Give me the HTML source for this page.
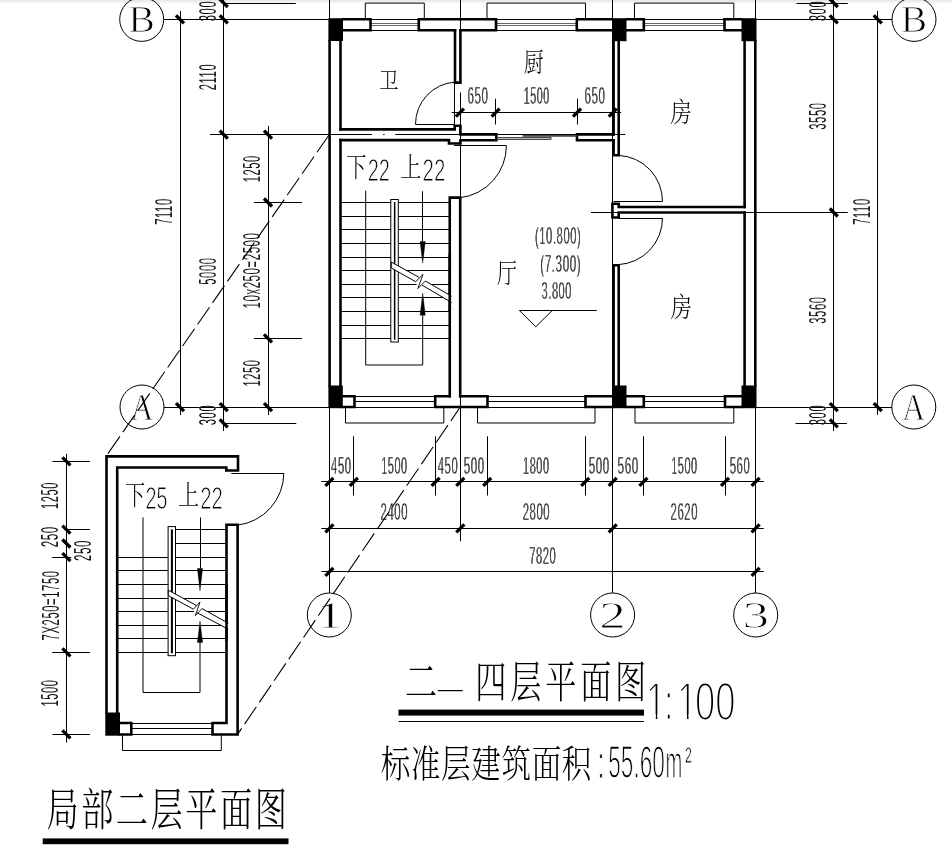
<!DOCTYPE html>
<html lang="zh">
<head>
<meta charset="utf-8">
<title>二—四层平面图 1:100</title>
<style>
html,body{margin:0;padding:0;background:#fff;}
body{width:952px;height:848px;overflow:hidden;position:relative;}
svg{display:block;position:absolute;left:0;top:0;filter:grayscale(1);}
.shade{position:absolute;left:0;top:0;width:952px;height:4px;background:linear-gradient(#e4e4e4,rgba(255,255,255,0));}
.n{stroke:#000;stroke-width:1.0;fill:none;}
.z{stroke:#000;stroke-width:0.9;fill:none;stroke-linejoin:miter;stroke-miterlimit:10;}
.h{stroke:#000;stroke-width:0.8;fill:none;}
.g{stroke:#555;stroke-width:0.9;fill:none;}
.k{stroke:#000;stroke-width:2.6;fill:none;stroke-linejoin:miter;stroke-linecap:square;}
.t{stroke:#000;stroke-width:3.3;stroke-linecap:butt;}
.col{fill:#000;stroke:none;}
.bar{fill:#4a4a4a;stroke:none;}
.ul{fill:#000;stroke:none;}
.arr{fill:#000;stroke:#000;stroke-width:0.4;}
.wf{fill:#fff;stroke:none;}
.dash{stroke:#000;stroke-width:1.1;stroke-dasharray:21 5.2;fill:none;}
text{fill:#000;}
.d{font-family:"Liberation Sans",sans-serif;stroke:#fff;stroke-width:0.5;letter-spacing:0.05em;filter:url(#bx);}
.dv{filter:none;stroke-width:0.15;}
.d4{font-family:"Liberation Sans",sans-serif;stroke:#fff;stroke-width:1.6;}
.d3{font-family:"Liberation Sans",sans-serif;stroke:#fff;stroke-width:0.9;}
.b{font-family:"Liberation Serif",serif;stroke:#fff;stroke-width:0.9;}
.c,.c2{font-family:"Liberation Sans","Noto Serif CJK SC",serif;font-weight:300;}
</style>
</head>
<body>
<div class="shade"></div>
<svg width="952" height="848" viewBox="0 0 952 848">
<defs><filter id="bx" x="-10%" y="-10%" width="120%" height="120%"><feGaussianBlur stdDeviation="0.4 0"/><feComponentTransfer><feFuncA type="linear" slope="2.7"/></feComponentTransfer></filter></defs>
<line class="n" x1="329.5" y1="0" x2="329.5" y2="593"/>
<line class="n" x1="460.5" y1="0" x2="460.5" y2="83"/>
<line class="n" x1="460.5" y1="92.5" x2="460.5" y2="541.3"/>
<line class="n" x1="612.5" y1="0" x2="612.5" y2="593"/>
<line class="n" x1="755.5" y1="0" x2="755.5" y2="593"/>
<line class="n" x1="164" y1="19.5" x2="329.5" y2="19.5"/>
<line class="n" x1="755.8" y1="19.5" x2="892" y2="19.5"/>
<line class="n" x1="164" y1="407.5" x2="329.5" y2="407.5"/>
<line class="n" x1="755.8" y1="407.5" x2="892" y2="407.5"/>
<line class="n" x1="210" y1="134.5" x2="372" y2="134.5"/>
<line class="n" x1="383.2" y1="134.5" x2="384.6" y2="134.5"/>
<line class="n" x1="395.3" y1="134.5" x2="460" y2="134.5"/>
<line class="n" x1="612.8" y1="134.5" x2="625.4" y2="134.5"/>
<line class="n" x1="591" y1="212.5" x2="847.8" y2="212.5"/>
<polyline class="n" points="365.3,19.3 365.3,3.1 424.3,3.1 424.3,19.3"/>
<polyline class="n" points="487,19.3 487,3.1 585.5,3.1 585.5,19.3"/>
<polyline class="n" points="634.5,19.3 634.5,3.1 733.8,3.1 733.8,19.3"/>
<polyline class="n" points="345.5,407.1 345.5,423 443.8,423 443.8,407.1"/>
<polyline class="n" points="477.5,407.1 477.5,423 595,423 595,407.1"/>
<polyline class="n" points="635,407.1 635,423 733.8,423 733.8,407.1"/>
<line class="n" x1="370.5" y1="19.5" x2="418.8" y2="19.5"/>
<line class="n" x1="370.5" y1="30.5" x2="418.8" y2="30.5"/>
<line class="g" x1="370.5" y1="23.5" x2="418.8" y2="23.5"/>
<line class="g" x1="370.5" y1="25.5" x2="418.8" y2="25.5"/>
<line class="n" x1="496" y1="19.5" x2="576.8" y2="19.5"/>
<line class="n" x1="496" y1="30.5" x2="576.8" y2="30.5"/>
<line class="g" x1="496" y1="23.5" x2="576.8" y2="23.5"/>
<line class="g" x1="496" y1="25.5" x2="576.8" y2="25.5"/>
<line class="n" x1="643.8" y1="19.5" x2="724.5" y2="19.5"/>
<line class="n" x1="643.8" y1="30.5" x2="724.5" y2="30.5"/>
<line class="g" x1="643.8" y1="23.5" x2="724.5" y2="23.5"/>
<line class="g" x1="643.8" y1="25.5" x2="724.5" y2="25.5"/>
<line class="n" x1="354.5" y1="396.5" x2="435.2" y2="396.5"/>
<line class="n" x1="354.5" y1="407.5" x2="435.2" y2="407.5"/>
<line class="n" x1="354.5" y1="401.5" x2="435.2" y2="401.5"/>
<line class="n" x1="487.5" y1="396.5" x2="585.5" y2="396.5"/>
<line class="n" x1="487.5" y1="407.5" x2="585.5" y2="407.5"/>
<line class="n" x1="487.5" y1="401.5" x2="585.5" y2="401.5"/>
<line class="n" x1="643.8" y1="396.5" x2="725" y2="396.5"/>
<line class="n" x1="643.8" y1="407.5" x2="725" y2="407.5"/>
<line class="n" x1="643.8" y1="401.5" x2="725" y2="401.5"/>
<polyline class="k" points="343,19.3 370.5,19.3 370.5,30.3 343,30.3"/>
<polyline class="k" points="455,30.3 418.8,30.3 418.8,19.3 496,19.3 496,30.3 460.4,30.3"/>
<polyline class="k" points="612.5,19.3 576.8,19.3 576.8,30.3 612.5,30.3"/>
<polyline class="k" points="626.5,19.3 643.8,19.3 643.8,30.3 626.5,30.3"/>
<polyline class="k" points="741.5,19.3 724.5,19.3 724.5,30.3 741.5,30.3"/>
<polyline class="k" points="342.8,407.0 354.5,407.0 354.5,396.2 342.8,396.2"/>
<polyline class="k" points="449.75,396.2 435.2,396.2 435.2,407.0 487.5,407.0 487.5,396.2 460.2,396.2"/>
<polyline class="k" points="612.5,407.0 585.5,407.0 585.5,396.2 612.5,396.2"/>
<polyline class="k" points="626.5,407.0 643.8,407.0 643.8,396.2 626.5,396.2"/>
<polyline class="k" points="741.5,407.0 725,407.0 725,396.2 741.5,396.2"/>
<line class="k" x1="329.6" y1="41" x2="329.6" y2="385.5"/>
<line class="k" x1="340.5" y1="41" x2="340.5" y2="129.4"/>
<line class="k" x1="340.5" y1="140.1" x2="340.5" y2="385.5"/>
<line class="k" x1="755.3" y1="41" x2="755.3" y2="385.5"/>
<line class="k" x1="744.6" y1="41" x2="744.6" y2="207"/>
<line class="k" x1="744.6" y1="212.5" x2="744.6" y2="385.5"/>
<polyline class="k" points="340.5,129.4 454.7,129.4 454.7,125.8 460.4,125.8 460.4,134.4 496.3,134.4 496.3,140.3 460.4,140.3 460.4,143.5 449,143.5 449,140.1 340.5,140.1"/>
<polyline class="k" points="455,30.3 455,82.6 460.4,82.6 460.4,30.3"/>
<line class="n" x1="454.5" y1="82.6" x2="454.5" y2="125.8"/>
<polyline class="k" points="613.6,134.4 577,134.4 577,140.3 613.6,140.3"/>
<polyline class="k" points="613.6,41 613.6,134.4"/>
<polyline class="k" points="613.6,140.3 613.6,155.3 618.7,155.3 618.7,41"/>
<polyline class="k" points="744.6,207 618.7,207 618.7,203.8 612.4,203.8 612.4,217.5 618.7,217.5 618.7,212.5 744.6,212.5"/>
<polyline class="k" points="613.6,385.5 613.6,265.2 618.7,265.2 618.7,385.5"/>
<polyline class="k" points="449.75,396.2 449.75,197.6 460.2,197.6 460.2,396.2"/>
<rect class="col" x="328.4" y="18.2" width="14.60" height="22.80"/>
<rect class="col" x="612.5" y="18.2" width="14.00" height="23.00"/>
<rect class="col" x="741.5" y="18.2" width="15.00" height="23.00"/>
<rect class="col" x="328.4" y="385.5" width="14.40" height="22.70"/>
<rect class="col" x="612.5" y="385.5" width="14.00" height="22.70"/>
<rect class="col" x="741.5" y="385.5" width="15.00" height="22.70"/>
<line class="n" x1="415.5" y1="124.5" x2="454.5" y2="124.5"/>
<path class="n" d="M415.5,124.2 A42.2,42.2 0 0 1 455,82.1"/>
<line class="n" x1="454" y1="145.5" x2="506.4" y2="145.5"/>
<path class="n" d="M506.4,145.7 A52.4,52.4 0 0 1 460.2,197.7"/>
<line class="n" x1="613.5" y1="201.5" x2="662.5" y2="201.5"/>
<path class="n" d="M662.5,201.3 A46,46 0 0 0 618.7,155.4"/>
<line class="n" x1="618.7" y1="218.5" x2="662.5" y2="218.5"/>
<path class="n" d="M662.5,218 A46.6,46.6 0 0 1 618.7,264.6"/>
<line class="n" x1="496.3" y1="134.5" x2="577" y2="134.5"/>
<rect class="bar" x="522.6" y="134.9" width="54.40" height="1.90"/>
<rect x="497" y="137.5" width="54" height="2" fill="#bbb" stroke="#222" stroke-width="0.8"/>
<line class="n" x1="340.5" y1="202.5" x2="391" y2="202.5"/>
<line class="n" x1="398.4" y1="202.5" x2="449.75" y2="202.5"/>
<line class="n" x1="340.5" y1="216.5" x2="391" y2="216.5"/>
<line class="n" x1="398.4" y1="216.5" x2="449.75" y2="216.5"/>
<line class="n" x1="340.5" y1="229.5" x2="391" y2="229.5"/>
<line class="n" x1="398.4" y1="229.5" x2="449.75" y2="229.5"/>
<line class="n" x1="340.5" y1="243.5" x2="391" y2="243.5"/>
<line class="n" x1="398.4" y1="243.5" x2="449.75" y2="243.5"/>
<line class="n" x1="340.5" y1="257.5" x2="391" y2="257.5"/>
<line class="n" x1="398.4" y1="257.5" x2="449.75" y2="257.5"/>
<line class="n" x1="340.5" y1="270.5" x2="391" y2="270.5"/>
<line class="n" x1="398.4" y1="270.5" x2="449.75" y2="270.5"/>
<line class="n" x1="340.5" y1="284.5" x2="391" y2="284.5"/>
<line class="n" x1="398.4" y1="284.5" x2="449.75" y2="284.5"/>
<line class="n" x1="340.5" y1="297.5" x2="391" y2="297.5"/>
<line class="n" x1="398.4" y1="297.5" x2="449.75" y2="297.5"/>
<line class="n" x1="340.5" y1="311.5" x2="391" y2="311.5"/>
<line class="n" x1="398.4" y1="311.5" x2="449.75" y2="311.5"/>
<line class="n" x1="340.5" y1="325.5" x2="391" y2="325.5"/>
<line class="n" x1="398.4" y1="325.5" x2="449.75" y2="325.5"/>
<line class="n" x1="340.5" y1="338.5" x2="391" y2="338.5"/>
<line class="n" x1="398.4" y1="338.5" x2="449.75" y2="338.5"/>
<rect class="n" x="390.8" y="199.5" width="7.50" height="142.50"/>
<rect class="col" x="393.9" y="202.1" width="1.50" height="137.60"/>
<polyline class="n" points="365.7,190.7 365.7,365 422.7,365 422.7,315.2"/>
<line class="n" x1="422.5" y1="191.3" x2="422.5" y2="241.4"/>
<polygon class="arr" points="420.1,241.4 425.3,241.4 422.7,263.2"/>
<polygon class="arr" points="420.1,315.2 425.3,315.2 422.7,293"/>
<polygon class="wf" points="391.3,262.1 419.2,277.4 423,274.4 425.4,281 451.7,296.3 451.7,302.5 422.1,285.2 417.8,288.6 415.7,281.7 391.3,268"/>
<polyline class="n" points="419.2,277.4 391.3,262.1 391.3,268 415.7,281.7"/>
<polyline class="n" points="451.7,296.3 425.4,281"/>
<polyline class="n" points="422.1,285.2 451.7,302.5"/>
<polyline class="z" points="415.7,281.7 423,274.4 417.8,288.6 425.4,281"/>
<line class="k" x1="449.75" y1="255" x2="449.75" y2="310"/>
<line class="n" x1="180.5" y1="11" x2="180.5" y2="415"/>
<line class="t" x1="176.0" y1="15.3" x2="184.0" y2="23.3"/>
<line class="t" x1="176.0" y1="403.1" x2="184.0" y2="411.1"/>
<line class="n" x1="223.5" y1="0" x2="223.5" y2="431"/>
<line class="t" x1="219.75" y1="-1.0" x2="227.75" y2="7.0"/>
<line class="t" x1="219.75" y1="15.3" x2="227.75" y2="23.3"/>
<line class="t" x1="219.75" y1="130.6" x2="227.75" y2="138.6"/>
<line class="t" x1="219.75" y1="403.1" x2="227.75" y2="411.1"/>
<line class="t" x1="219.75" y1="419.4" x2="227.75" y2="427.4"/>
<line class="n" x1="223.75" y1="3.5" x2="295.8" y2="3.5"/>
<line class="n" x1="223.75" y1="423.5" x2="296.3" y2="423.5"/>
<line class="n" x1="268.5" y1="126" x2="268.5" y2="415"/>
<line class="t" x1="264.0" y1="130.6" x2="272.0" y2="138.6"/>
<line class="t" x1="264.0" y1="198.5" x2="272.0" y2="206.5"/>
<line class="t" x1="264.0" y1="334.3" x2="272.0" y2="342.3"/>
<line class="t" x1="264.0" y1="403.1" x2="272.0" y2="411.1"/>
<line class="n" x1="253.8" y1="202.5" x2="302" y2="202.5"/>
<line class="n" x1="253.8" y1="338.5" x2="302" y2="338.5"/>
<text class="d dv" transform="translate(172.3,211.5) rotate(-90)" x="0" y="0" font-size="24" text-anchor="middle" textLength="26.5" lengthAdjust="spacingAndGlyphs">7110</text>
<text class="d dv" transform="translate(215.8,77) rotate(-90)" x="0" y="0" font-size="24" text-anchor="middle" textLength="26.5" lengthAdjust="spacingAndGlyphs">2110</text>
<text class="d dv" transform="translate(215.8,271) rotate(-90)" x="0" y="0" font-size="24" text-anchor="middle" textLength="27.5" lengthAdjust="spacingAndGlyphs">5000</text>
<text class="d dv" transform="translate(215.8,11) rotate(-90)" x="0" y="0" font-size="24" text-anchor="middle" textLength="20.5" lengthAdjust="spacingAndGlyphs">300</text>
<text class="d dv" transform="translate(215.8,415) rotate(-90)" x="0" y="0" font-size="24" text-anchor="middle" textLength="20.5" lengthAdjust="spacingAndGlyphs">300</text>
<text class="d dv" transform="translate(259.8,168.7) rotate(-90)" x="0" y="0" font-size="24" text-anchor="middle" textLength="27" lengthAdjust="spacingAndGlyphs">1250</text>
<text class="d dv" transform="translate(259.8,270.5) rotate(-90)" x="0" y="0" font-size="24" text-anchor="middle" textLength="76" lengthAdjust="spacingAndGlyphs">10x250=2500</text>
<text class="d dv" transform="translate(259.8,373) rotate(-90)" x="0" y="0" font-size="24" text-anchor="middle" textLength="27" lengthAdjust="spacingAndGlyphs">1250</text>
<line class="n" x1="833.5" y1="0" x2="833.5" y2="431"/>
<line class="t" x1="829.8" y1="-1.0" x2="837.8" y2="7.0"/>
<line class="t" x1="829.8" y1="15.3" x2="837.8" y2="23.3"/>
<line class="t" x1="829.8" y1="208.5" x2="837.8" y2="216.5"/>
<line class="t" x1="829.8" y1="403.1" x2="837.8" y2="411.1"/>
<line class="t" x1="829.8" y1="419.4" x2="837.8" y2="427.4"/>
<line class="n" x1="796.5" y1="3.5" x2="847.8" y2="3.5"/>
<line class="n" x1="795.5" y1="423.5" x2="847" y2="423.5"/>
<line class="n" x1="877.5" y1="11" x2="877.5" y2="415"/>
<line class="t" x1="873.75" y1="15.3" x2="881.75" y2="23.3"/>
<line class="t" x1="873.75" y1="403.1" x2="881.75" y2="411.1"/>
<text class="d dv" transform="translate(825.8,116) rotate(-90)" x="0" y="0" font-size="24" text-anchor="middle" textLength="27.5" lengthAdjust="spacingAndGlyphs">3550</text>
<text class="d dv" transform="translate(825.8,310) rotate(-90)" x="0" y="0" font-size="24" text-anchor="middle" textLength="27.5" lengthAdjust="spacingAndGlyphs">3560</text>
<text class="d dv" transform="translate(825.8,11) rotate(-90)" x="0" y="0" font-size="24" text-anchor="middle" textLength="20.5" lengthAdjust="spacingAndGlyphs">300</text>
<text class="d dv" transform="translate(825.8,415) rotate(-90)" x="0" y="0" font-size="24" text-anchor="middle" textLength="20.5" lengthAdjust="spacingAndGlyphs">300</text>
<text class="d dv" transform="translate(870,211.5) rotate(-90)" x="0" y="0" font-size="24" text-anchor="middle" textLength="26.5" lengthAdjust="spacingAndGlyphs">7110</text>
<line class="n" x1="321.3" y1="481.5" x2="763.8" y2="481.5"/>
<line class="n" x1="321.3" y1="528.5" x2="763.8" y2="528.5"/>
<line class="n" x1="321.3" y1="571.5" x2="763.8" y2="571.5"/>
<line class="t" x1="325.4" y1="485.8" x2="333.4" y2="477.8"/>
<line class="t" x1="349.8" y1="485.8" x2="357.8" y2="477.8"/>
<line class="t" x1="431.6" y1="485.8" x2="439.6" y2="477.8"/>
<line class="t" x1="456.3" y1="485.8" x2="464.3" y2="477.8"/>
<line class="t" x1="483.2" y1="485.8" x2="491.2" y2="477.8"/>
<line class="t" x1="581.2" y1="485.8" x2="589.2" y2="477.8"/>
<line class="t" x1="608.7" y1="485.8" x2="616.7" y2="477.8"/>
<line class="t" x1="639.4" y1="485.8" x2="647.4" y2="477.8"/>
<line class="t" x1="721.0" y1="485.8" x2="729.0" y2="477.8"/>
<line class="t" x1="751.6" y1="485.8" x2="759.6" y2="477.8"/>
<line class="n" x1="353.5" y1="436.3" x2="353.5" y2="495.5"/>
<line class="n" x1="435.5" y1="436.3" x2="435.5" y2="495.5"/>
<line class="n" x1="487.5" y1="436.3" x2="487.5" y2="495.5"/>
<line class="n" x1="585.5" y1="436.3" x2="585.5" y2="495.5"/>
<line class="n" x1="643.5" y1="436.3" x2="643.5" y2="495.5"/>
<line class="n" x1="725.5" y1="436.3" x2="725.5" y2="495.5"/>
<line class="t" x1="325.4" y1="532.4" x2="333.4" y2="524.4"/>
<line class="t" x1="456.3" y1="532.4" x2="464.3" y2="524.4"/>
<line class="t" x1="608.7" y1="532.4" x2="616.7" y2="524.4"/>
<line class="t" x1="751.6" y1="532.4" x2="759.6" y2="524.4"/>
<line class="t" x1="325.4" y1="575.8" x2="333.4" y2="567.8"/>
<line class="t" x1="751.6" y1="575.8" x2="759.6" y2="567.8"/>
<text class="d" x="341.3" y="473.8" font-size="24" text-anchor="middle" textLength="20.5" lengthAdjust="spacingAndGlyphs">450</text>
<text class="d" x="394.4" y="473.8" font-size="24" text-anchor="middle" textLength="26.5" lengthAdjust="spacingAndGlyphs">1500</text>
<text class="d" x="448" y="473.8" font-size="24" text-anchor="middle" textLength="20.5" lengthAdjust="spacingAndGlyphs">450</text>
<text class="d" x="474.2" y="473.8" font-size="24" text-anchor="middle" textLength="21" lengthAdjust="spacingAndGlyphs">500</text>
<text class="d" x="536.3" y="473.8" font-size="24" text-anchor="middle" textLength="26.5" lengthAdjust="spacingAndGlyphs">1800</text>
<text class="d" x="599.2" y="473.8" font-size="24" text-anchor="middle" textLength="21" lengthAdjust="spacingAndGlyphs">500</text>
<text class="d" x="628.2" y="473.8" font-size="24" text-anchor="middle" textLength="21.3" lengthAdjust="spacingAndGlyphs">560</text>
<text class="d" x="684.4" y="473.8" font-size="24" text-anchor="middle" textLength="26.5" lengthAdjust="spacingAndGlyphs">1500</text>
<text class="d" x="740" y="473.8" font-size="24" text-anchor="middle" textLength="20.5" lengthAdjust="spacingAndGlyphs">560</text>
<text class="d" x="394.3" y="520" font-size="24" text-anchor="middle" textLength="27.5" lengthAdjust="spacingAndGlyphs">2400</text>
<text class="d" x="536.5" y="520" font-size="24" text-anchor="middle" textLength="27.5" lengthAdjust="spacingAndGlyphs">2800</text>
<text class="d" x="684.3" y="520" font-size="24" text-anchor="middle" textLength="27.5" lengthAdjust="spacingAndGlyphs">2620</text>
<text class="d" x="542.8" y="564.3" font-size="24" text-anchor="middle" textLength="27.2" lengthAdjust="spacingAndGlyphs">7820</text>
<line class="n" x1="451.6" y1="112.5" x2="621" y2="112.5"/>
<line class="t" x1="455.9" y1="116.6" x2="463.9" y2="108.6"/>
<line class="t" x1="491.6" y1="116.6" x2="499.6" y2="108.6"/>
<line class="t" x1="573.0" y1="116.6" x2="581.0" y2="108.6"/>
<line class="t" x1="608.8" y1="116.6" x2="616.8" y2="108.6"/>
<line class="n" x1="495.5" y1="98.8" x2="495.5" y2="124.5"/>
<line class="n" x1="577.5" y1="98.8" x2="577.5" y2="124.5"/>
<text class="d" x="478" y="103.8" font-size="24" text-anchor="middle" textLength="21" lengthAdjust="spacingAndGlyphs">650</text>
<text class="d" x="536.7" y="103.8" font-size="24" text-anchor="middle" textLength="26" lengthAdjust="spacingAndGlyphs">1500</text>
<text class="d" x="595" y="103.8" font-size="24" text-anchor="middle" textLength="21" lengthAdjust="spacingAndGlyphs">650</text>
<circle class="n" cx="141.7" cy="19.4" r="22"/>
<circle class="n" cx="914" cy="19.4" r="22"/>
<circle class="n" cx="142" cy="407" r="22"/>
<circle class="n" cx="913.8" cy="407" r="22"/>
<circle class="n" cx="329.3" cy="615" r="22"/>
<circle class="n" cx="612.6" cy="615" r="22"/>
<circle class="n" cx="755.7" cy="615" r="22"/>
<text class="b" transform="translate(141.7,32) scale(1.04,1)" x="0" y="0" font-size="38" text-anchor="middle">B</text>
<text class="b" transform="translate(913.9,32) scale(1.04,1)" x="0" y="0" font-size="38" text-anchor="middle">B</text>
<text class="b" transform="translate(142,419.7) scale(0.82,1)" x="0" y="0" font-size="38.5" text-anchor="middle">A</text>
<text class="b" transform="translate(913.7,419.7) scale(0.82,1)" x="0" y="0" font-size="38.5" text-anchor="middle">A</text>
<text class="b" transform="translate(329.6,628) scale(1.5,1)" x="0" y="0" font-size="38.5" text-anchor="middle">1</text>
<text class="b" transform="translate(612.5,628) scale(1.38,1)" x="0" y="0" font-size="38.5" text-anchor="middle">2</text>
<text class="b" transform="translate(755.7,628) scale(1.38,1)" x="0" y="0" font-size="38.5" text-anchor="middle">3</text>
<line class="dash" x1="329" y1="135" x2="106" y2="456.4"/>
<line class="dash" stroke-dashoffset="5.5" x1="459.6" y1="408" x2="237.9" y2="733.9"/>
<text class="c" transform="translate(388.8,80) scale(0.691,0.768)" x="0" y="10.08" font-size="28" text-anchor="middle">卫</text>
<text class="c" transform="translate(533.8,62.5) scale(0.710,0.987)" x="0" y="10.08" font-size="28" text-anchor="middle">厨</text>
<text class="c" transform="translate(681,112.5) scale(0.768,0.960)" x="0" y="10.08" font-size="28" text-anchor="middle">房</text>
<text class="c" transform="translate(681.2,307) scale(0.768,0.960)" x="0" y="10.08" font-size="28" text-anchor="middle">房</text>
<text class="c" transform="translate(507,273) scale(0.710,0.991)" x="0" y="10.08" font-size="28" text-anchor="middle">厅</text>
<text class="d" x="535" y="244" font-size="24" textLength="46.3" lengthAdjust="spacingAndGlyphs">(10.800)</text>
<text class="d" x="540.2" y="271.6" font-size="24" textLength="41.1" lengthAdjust="spacingAndGlyphs">(7.300)</text>
<text class="d" x="541.6" y="299.2" font-size="24" textLength="30.4" lengthAdjust="spacingAndGlyphs">3.800</text>
<line class="n" x1="519.4" y1="310.5" x2="596.8" y2="310.5"/>
<polyline class="n" points="519.4,310.5 535.7,326.8 552.3,310.5"/>
<text class="c" transform="translate(356.4,166.8) scale(0.722,0.987)" x="0" y="10.08" font-size="28" text-anchor="middle">下</text>
<text class="d3" x="367.7" y="180.7" font-size="32" textLength="22.1" lengthAdjust="spacingAndGlyphs">22</text>
<text class="c" transform="translate(410.8,166.8) scale(0.757,0.987)" x="0" y="10.08" font-size="28" text-anchor="middle">上</text>
<text class="d3" x="422.6" y="180.7" font-size="32" textLength="22.7" lengthAdjust="spacingAndGlyphs">22</text>
<polyline class="k" points="117.2,712.5 117.2,467.5 226.3,467.5 226.3,470.5 238,470.5 238,456.4 106.5,456.4 106.5,712.5"/>
<polyline class="k" points="120,723 131.3,723 131.3,734.5 120,734.5"/>
<polyline class="k" points="226.5,524.7 226.5,723 212.5,723 212.5,734.5 237.6,734.5 237.6,524.7 226.5,524.7"/>
<rect class="col" x="105.3" y="712.5" width="14.70" height="23.20"/>
<line class="n" x1="131.3" y1="723.5" x2="212.5" y2="723.5"/>
<line class="n" x1="131.3" y1="734.5" x2="212.5" y2="734.5"/>
<line class="n" x1="131.3" y1="728.5" x2="212.5" y2="728.5"/>
<polyline class="n" points="122.5,734.5 122.5,750.5 221.3,750.5 221.3,734.5"/>
<line class="n" x1="231.3" y1="473.5" x2="283.8" y2="473.5"/>
<path class="n" d="M283.8,473 A52.5,52.5 0 0 1 237.6,525.1"/>
<line class="n" x1="175.8" y1="529.5" x2="226.5" y2="529.5"/>
<line class="n" x1="175.8" y1="543.5" x2="226.5" y2="543.5"/>
<line class="n" x1="117.2" y1="557.5" x2="168.3" y2="557.5"/>
<line class="n" x1="175.8" y1="557.5" x2="226.5" y2="557.5"/>
<line class="n" x1="117.2" y1="570.5" x2="168.3" y2="570.5"/>
<line class="n" x1="175.8" y1="570.5" x2="226.5" y2="570.5"/>
<line class="n" x1="117.2" y1="584.5" x2="168.3" y2="584.5"/>
<line class="n" x1="175.8" y1="584.5" x2="226.5" y2="584.5"/>
<line class="n" x1="117.2" y1="598.5" x2="168.3" y2="598.5"/>
<line class="n" x1="175.8" y1="598.5" x2="226.5" y2="598.5"/>
<line class="n" x1="117.2" y1="611.5" x2="168.3" y2="611.5"/>
<line class="n" x1="175.8" y1="611.5" x2="226.5" y2="611.5"/>
<line class="n" x1="117.2" y1="625.5" x2="168.3" y2="625.5"/>
<line class="n" x1="175.8" y1="625.5" x2="226.5" y2="625.5"/>
<line class="n" x1="117.2" y1="638.5" x2="168.3" y2="638.5"/>
<line class="n" x1="175.8" y1="638.5" x2="226.5" y2="638.5"/>
<line class="n" x1="117.2" y1="652.5" x2="168.3" y2="652.5"/>
<line class="n" x1="175.8" y1="652.5" x2="226.5" y2="652.5"/>
<rect class="n" x="168.1" y="526.6" width="7.40" height="129.10"/>
<rect class="col" x="170.9" y="529.4" width="2.00" height="123.80"/>
<polyline class="n" points="143,517.5 143,692.5 200,692.5 200,642.5"/>
<line class="n" x1="200.5" y1="517.5" x2="200.5" y2="568.5"/>
<polygon class="arr" points="197.4,568.5 202.6,568.5 200,590.8"/>
<polygon class="arr" points="197.4,642.5 202.6,642.5 200,621"/>
<polygon class="wf" points="168.3,590.2 196.6,605.6 200,602 201.9,608.5 228.3,623.2 228.3,629.2 197.2,612.8 195.3,615.7 193.4,609.2 168.3,595.6"/>
<polyline class="n" points="196.6,605.6 168.3,590.2 168.3,595.6 193.4,609.2"/>
<polyline class="n" points="228.3,623.2 201.9,608.5"/>
<polyline class="n" points="197.2,612.8 228.3,629.2"/>
<polyline class="z" points="193.4,609.2 200,602 195.3,615.7 201.9,608.5"/>
<line class="k" x1="226.5" y1="585" x2="226.5" y2="640"/>
<line class="n" x1="66.5" y1="453.8" x2="66.5" y2="742.5"/>
<line class="t" x1="62.400000000000006" y1="457.3" x2="70.4" y2="465.3"/>
<line class="t" x1="62.400000000000006" y1="525.7" x2="70.4" y2="533.7"/>
<line class="t" x1="62.400000000000006" y1="539.5" x2="70.4" y2="547.5"/>
<line class="t" x1="62.400000000000006" y1="553.2" x2="70.4" y2="561.2"/>
<line class="t" x1="62.400000000000006" y1="648.4" x2="70.4" y2="656.4"/>
<line class="t" x1="62.400000000000006" y1="730.3" x2="70.4" y2="738.3"/>
<line class="n" x1="52.5" y1="461.5" x2="90" y2="461.5"/>
<line class="n" x1="66.4" y1="529.5" x2="90" y2="529.5"/>
<line class="n" x1="52.2" y1="557.5" x2="71.3" y2="557.5"/>
<line class="n" x1="52.2" y1="652.5" x2="90" y2="652.5"/>
<line class="n" x1="52.5" y1="734.5" x2="90" y2="734.5"/>
<text class="d dv" transform="translate(58.4,495.6) rotate(-90)" x="0" y="0" font-size="24" text-anchor="middle" textLength="27" lengthAdjust="spacingAndGlyphs">1250</text>
<text class="d dv" transform="translate(58,536.8) rotate(-90)" x="0" y="0" font-size="24" text-anchor="middle" textLength="21" lengthAdjust="spacingAndGlyphs">250</text>
<text class="d dv" transform="translate(91.3,550.4) rotate(-90)" x="0" y="0" font-size="24" text-anchor="middle" textLength="21" lengthAdjust="spacingAndGlyphs">250</text>
<text class="d dv" transform="translate(58.5,605.4) rotate(-90)" x="0" y="0" font-size="24" text-anchor="middle" textLength="70" lengthAdjust="spacingAndGlyphs">7X250=1750</text>
<text class="d dv" transform="translate(58.4,693) rotate(-90)" x="0" y="0" font-size="24" text-anchor="middle" textLength="27" lengthAdjust="spacingAndGlyphs">1500</text>
<text class="c" transform="translate(135,495.5) scale(0.722,0.987)" x="0" y="10.08" font-size="28" text-anchor="middle">下</text>
<text class="d3" x="145.4" y="508.8" font-size="32" textLength="22" lengthAdjust="spacingAndGlyphs">25</text>
<text class="c" transform="translate(188.5,495.5) scale(0.757,0.987)" x="0" y="10.08" font-size="28" text-anchor="middle">上</text>
<text class="d3" x="200.3" y="508.8" font-size="32" textLength="22.5" lengthAdjust="spacingAndGlyphs">22</text>
<text class="c2" transform="translate(421.15,682.5) scale(0.806,1.102)" x="0" y="14.40" font-size="40" text-anchor="middle">二</text>
<text class="d4" x="450.3" y="701.2" font-size="40" text-anchor="middle" textLength="26" lengthAdjust="spacingAndGlyphs">—</text>
<text class="c2" transform="translate(490.875,682.5) scale(0.780,1.102)" x="0" y="14.40" font-size="40" text-anchor="middle">四</text>
<text class="c2" transform="translate(525.825,682.5) scale(0.780,1.102)" x="0" y="14.40" font-size="40" text-anchor="middle">层</text>
<text class="c2" transform="translate(560.775,682.5) scale(0.780,1.102)" x="0" y="14.40" font-size="40" text-anchor="middle">平</text>
<text class="c2" transform="translate(595.725,682.5) scale(0.780,1.102)" x="0" y="14.40" font-size="40" text-anchor="middle">面</text>
<text class="c2" transform="translate(630.675,682.5) scale(0.780,1.102)" x="0" y="14.40" font-size="40" text-anchor="middle">图</text>
<rect class="ul" x="398.5" y="709.6" width="245.50" height="6.00"/>
<line class="n" x1="398.5" y1="721.5" x2="644" y2="721.5"/>
<text class="d4" x="645.8" y="719.6" font-size="54.4" textLength="20.2" lengthAdjust="spacingAndGlyphs" style="stroke-width:2.1">1</text>
<text class="d4" transform="translate(668.7,719.2) scale(1,1.4)" x="0" y="0" font-size="34" text-anchor="middle" textLength="7.5" lengthAdjust="spacingAndGlyphs" style="stroke-width:0.8">:</text>
<text class="d4" x="677" y="719.6" font-size="54.4" textLength="20.2" lengthAdjust="spacingAndGlyphs" style="stroke-width:2.1">1</text>
<text class="d4" x="695" y="719.6" font-size="54.4" textLength="40.4" lengthAdjust="spacingAndGlyphs" style="stroke-width:2.1">00</text>
<rect class="wf" x="647.3" y="714.3" width="8.50" height="6.50"/>
<rect class="wf" x="657.3499999999999" y="714.3" width="8.25" height="6.50"/>
<rect class="wf" x="678.5" y="714.3" width="8.50" height="6.50"/>
<rect class="wf" x="688.55" y="714.3" width="8.25" height="6.50"/>
<text class="c2" transform="translate(395.40000000000003,763.5) scale(0.870,1.107)" x="0" y="12.24" font-size="34" text-anchor="middle">标</text>
<text class="c2" transform="translate(425.6,763.5) scale(0.870,1.107)" x="0" y="12.24" font-size="34" text-anchor="middle">准</text>
<text class="c2" transform="translate(455.8,763.5) scale(0.870,1.107)" x="0" y="12.24" font-size="34" text-anchor="middle">层</text>
<text class="c2" transform="translate(486.0,763.5) scale(0.870,1.107)" x="0" y="12.24" font-size="34" text-anchor="middle">建</text>
<text class="c2" transform="translate(516.2,763.5) scale(0.870,1.107)" x="0" y="12.24" font-size="34" text-anchor="middle">筑</text>
<text class="c2" transform="translate(546.4,763.5) scale(0.870,1.107)" x="0" y="12.24" font-size="34" text-anchor="middle">面</text>
<text class="c2" transform="translate(576.6,763.5) scale(0.870,1.107)" x="0" y="12.24" font-size="34" text-anchor="middle">积</text>
<text class="d4" transform="translate(601.1,778.2) scale(1,1.45)" x="0" y="0" font-size="30" text-anchor="middle" textLength="6.5" lengthAdjust="spacingAndGlyphs" style="stroke-width:0.6">:</text>
<text class="d4" transform="translate(608.2,778.4) scale(1,1.516)" x="0" y="0" font-size="30" text-anchor="start" textLength="56.7" lengthAdjust="spacingAndGlyphs" style="stroke-width:0.9">55.60</text>
<text class="d4" transform="translate(665.4,778.4) scale(1,1.516)" x="0" y="0" font-size="30" text-anchor="start" textLength="16.8" lengthAdjust="spacingAndGlyphs" style="stroke-width:0.9">m</text>
<text class="d4" transform="translate(685.3,774.0) scale(1,1.62)" x="0" y="0" font-size="24" text-anchor="start" textLength="6.4" lengthAdjust="spacingAndGlyphs" style="stroke-width:0.5">²</text>
<text class="c2" transform="translate(62.550000000000004,810) scale(0.806,1.142)" x="0" y="14.40" font-size="40" text-anchor="middle">局</text>
<text class="c2" transform="translate(97.25,810) scale(0.806,1.142)" x="0" y="14.40" font-size="40" text-anchor="middle">部</text>
<text class="c2" transform="translate(131.95,810) scale(0.806,1.142)" x="0" y="14.40" font-size="40" text-anchor="middle">二</text>
<text class="c2" transform="translate(166.65000000000003,810) scale(0.806,1.142)" x="0" y="14.40" font-size="40" text-anchor="middle">层</text>
<text class="c2" transform="translate(201.35000000000002,810) scale(0.806,1.142)" x="0" y="14.40" font-size="40" text-anchor="middle">平</text>
<text class="c2" transform="translate(236.05,810) scale(0.806,1.142)" x="0" y="14.40" font-size="40" text-anchor="middle">面</text>
<text class="c2" transform="translate(270.75,810) scale(0.806,1.142)" x="0" y="14.40" font-size="40" text-anchor="middle">图</text>
<rect class="ul" x="42.7" y="838.4" width="245.80" height="5.80"/>
</svg>
</body>
</html>
